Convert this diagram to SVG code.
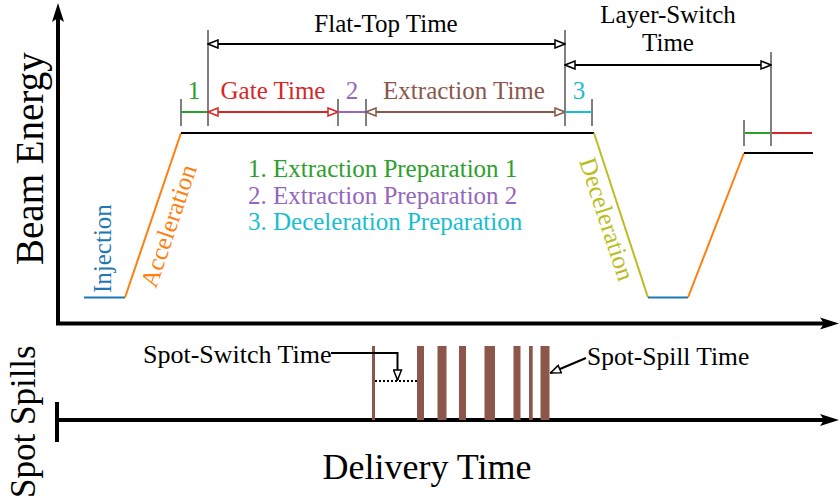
<svg xmlns="http://www.w3.org/2000/svg" width="840" height="503" viewBox="0 0 840 503" font-family="'Liberation Serif', Tinos, 'Times New Roman', 'Nimbus Roman', 'DejaVu Serif', serif">
<style>
text{font-family:"Liberation Serif",Tinos,"Times New Roman","Nimbus Roman","DejaVu Serif",serif;}
.lbl{font-size:25px;}
.ax{stroke:#000;stroke-width:4;fill:none;}
.tick{stroke:#808080;stroke-width:2;fill:none;}
.seg{stroke-width:2;fill:none;}
.k{stroke:#000;}
</style>
<defs>
<marker id="mk" viewBox="-1 -1 12 10" refX="10" refY="4" markerWidth="12" markerHeight="10" markerUnits="userSpaceOnUse" orient="auto-start-reverse"><path d="M0,0 L10,4 L0,8 Z" fill="#fff" stroke="#000" stroke-width="1.5"/></marker>
<marker id="mr" viewBox="-1 -1 12 10" refX="10" refY="4" markerWidth="12" markerHeight="10" markerUnits="userSpaceOnUse" orient="auto-start-reverse"><path d="M0,0 L10,4 L0,8 Z" fill="#fff" stroke="#d62728" stroke-width="1.5"/></marker>
<marker id="mb" viewBox="-1 -1 12 10" refX="10" refY="4" markerWidth="12" markerHeight="10" markerUnits="userSpaceOnUse" orient="auto-start-reverse"><path d="M0,0 L10,4 L0,8 Z" fill="#fff" stroke="#8c564b" stroke-width="1.5"/></marker>
</defs>
<rect width="840" height="503" fill="#fff"/>

<g id="axes">
<path class="ax" d="M58,16 V323.5 H826"/>
<path d="M58,3 L64,22 L58,18 L52,22 Z" fill="#000"/>
<path d="M839,323.5 L820,317.5 L824,323.5 L820,329.5 Z" fill="#000"/>
<path class="ax" d="M57,402 V442 M57,420 H826"/>
<path d="M839,420 L820,414 L824,420 L820,426 Z" fill="#000"/>
<text x="0" y="0" transform="translate(43,265) rotate(-90)" font-size="39">Beam Energy</text>
<text x="0" y="0" transform="translate(35,498) rotate(-90)" font-size="35">Spot Spills</text>
<text x="427" y="479" font-size="36" text-anchor="middle">Delivery Time</text>
</g>

<g id="energy-profile">
<path class="seg" stroke="#1f77b4" d="M84,297.5 H125"/>
<path class="seg" stroke="#ff7f0e" d="M125,297.5 L181,133"/>
<path class="seg k" d="M181,133 H594"/>
<path class="seg" stroke="#bcbd22" d="M594,133 L648,297.5"/>
<path class="seg" stroke="#1f77b4" d="M648,297.5 H688"/>
<path class="seg" stroke="#ff7f0e" d="M688,297.5 L744,153"/>
<path class="seg k" d="M744,153 H813"/>
<path class="seg" stroke="#2ca02c" d="M744,133 H771"/>
<path class="seg" stroke="#d62728" d="M771,133 H812"/>
<text class="lbl" fill="#1f77b4" transform="translate(111,293) rotate(-90)">Injection</text>
<text class="lbl" fill="#ff7f0e" transform="translate(156,289) rotate(-71.2)">Acceleration</text>
<text class="lbl" fill="#bcbd22" transform="translate(579,161) rotate(71.8)">Deceleration</text>
</g>

<g id="ticks">
<path class="tick" d="M181,99 V126 M208,30 V126 M338,99 V126 M366,99 V126 M565,30 V126 M592,99 V126 M744,120 V146 M771,52 V146"/>
</g>

<g id="phase-1">
<path class="seg" stroke="#2ca02c" d="M181,112 H208"/>
<text class="lbl" x="194" y="99" fill="#2ca02c" text-anchor="middle">1</text>
</g>
<g id="gate-time">
<path class="seg" stroke="#d62728" d="M208,112 H338" marker-start="url(#mr)" marker-end="url(#mr)"/>
<text class="lbl" x="273" y="99" fill="#d62728" text-anchor="middle">Gate Time</text>
</g>
<g id="phase-2">
<path class="seg" stroke="#9467bd" d="M338,112 H366"/>
<text class="lbl" x="352" y="99" fill="#9467bd" text-anchor="middle">2</text>
</g>
<g id="extraction-time">
<path class="seg" stroke="#8c564b" d="M366,112 H565" marker-start="url(#mb)" marker-end="url(#mb)"/>
<text class="lbl" x="464" y="99" fill="#8c564b" text-anchor="middle">Extraction Time</text>
</g>
<g id="phase-3">
<path class="seg" stroke="#17becf" d="M565,112 H592"/>
<text class="lbl" x="579" y="99" fill="#17becf" text-anchor="middle">3</text>
</g>
<g id="flat-top-time">
<path class="seg k" d="M208,44 H565" marker-start="url(#mk)" marker-end="url(#mk)"/>
<text class="lbl" x="386" y="32" text-anchor="middle">Flat-Top Time</text>
</g>
<g id="layer-switch-time">
<path class="seg k" d="M565,65 H771" marker-start="url(#mk)" marker-end="url(#mk)"/>
<text class="lbl" x="668" y="22.5" text-anchor="middle">Layer-Switch</text>
<text class="lbl" x="668" y="51" text-anchor="middle">Time</text>
</g>

<g id="legend">
<text class="lbl" x="248" y="177" fill="#2ca02c">1. Extraction Preparation 1</text>
<text class="lbl" x="248" y="203.5" fill="#9467bd">2. Extraction Preparation 2</text>
<text class="lbl" x="248" y="230" fill="#17becf">3. Deceleration Preparation</text>
</g>

<g id="spot-spills" fill="#8c564b">
<rect x="372" y="346" width="3" height="74"/>
<rect x="417" y="346" width="7" height="74"/>
<rect x="437.5" y="346" width="9" height="74"/>
<rect x="459" y="346" width="7" height="74"/>
<rect x="484.5" y="346" width="10.5" height="74"/>
<rect x="513.5" y="346" width="7" height="74"/>
<rect x="529" y="346" width="3.7" height="74"/>
<rect x="540.5" y="346" width="9" height="74"/>
</g>

<g id="connectors">
<path d="M375,381 H417" stroke="#000" stroke-width="2" stroke-dasharray="2,2" fill="none"/>
<path class="seg k" d="M331,353 H397.5 V380" marker-end="url(#mk)"/>
<path class="seg k" d="M586,358 L550.5,373" marker-end="url(#mk)"/>
</g>
<g id="spot-switch-label">
<text x="143" y="363" font-size="26">Spot-Switch Time</text>
</g>
<g id="spot-spill-label">
<text x="587" y="365" font-size="25.5">Spot-Spill Time</text>
</g>
</svg>
